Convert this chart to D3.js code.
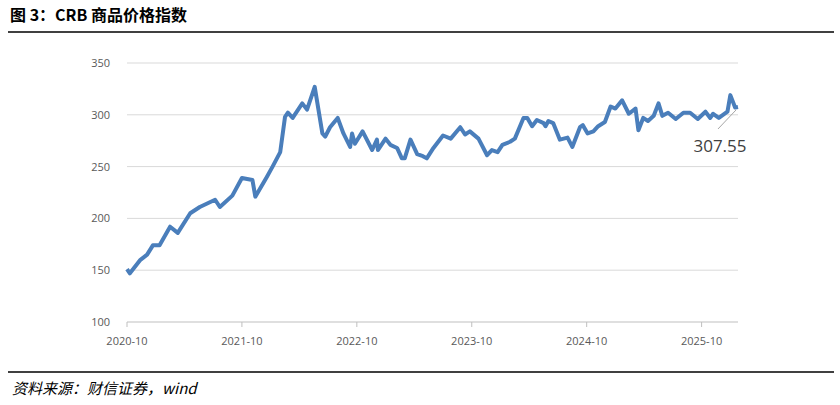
<!DOCTYPE html>
<html><head><meta charset="utf-8">
<script src="https://cdn.jsdelivr.net/npm/d3@7"></script>
<style>body{margin:0;background:#fff}</style>
</head><body><svg width="840" height="405"></svg>
<script>
// months since 2020-10 and CRB index values
let months = [0,.3,1.4,2.1,2.7,3.4,4.5,5.3,6.6,7.6,9.2,9.7,11.0,12.0,13.1,13.4,14.6,15.2,16.0,16.5,16.8,17.3,18.3,18.8,19.6,20.4,20.7,21.2,22.0,22.6,23.3,23.5,23.8,24.6,25.6,26.1,26.2,27.0,27.5,28.2,28.7,29.0,29.6,30.3,30.9,31.3,32.0,33.0,33.8,34.8,35.3,35.8,36.7,37.6,38.1,38.7,39.2,40.0,40.5,41.4,41.8,42.3,42.8,43.5,43.7,44.0,44.5,45.2,46.0,46.5,47.3,47.6,48.1,48.7,49.2,49.9,50.5,51.0,51.7,52.4,53.1,53.4,53.9,54.4,55.0,55.5,55.9,56.5,57.3,58.1,58.8,59.6,60.4,60.9,61.2,61.8,62.7,63.0,63.5,63.8]
let values = [151,147,160,165,174,174,192,186,205,211,218,211,222,239,237,221,240,250,264,298,302,297,311,305,327,282,279,288,297,282,269,282,272,284,266,276,266,277,271,268,258,258,276,262,260,258,268,280,277,288,281,284,277,261,266,264,271,274,277,297,297,289,295,292,289,294,292,276,278,269,288,290,282,284,289,293,308,306,314,301,306,285,297,294,299,311,299,302,296,302,302,296,303,297,301,297,303,319,307,307.55]
let yTicks = [100,150,200,250,300,350]
let xTicks = [0,12,24,36,48,60]
let xTickLabels = ["2020-10","2021-10","2022-10","2023-10","2024-10","2025-10"]
let lastLabel = "307.55"

let svg = d3.select("svg")
let x = d3.scaleLinear().domain([0, 63.8]).range([127, 738])
let y = d3.scaleLinear().domain([100, 350]).range([322, 63])

// title and rules
svg.append("text").attr("x", 10).attr("y", 21).attr("font-family", "Noto Sans CJK SC")
    .attr("font-weight", "bold").attr("font-size", 16).attr("fill", "#000").text("图 3：CRB 商品价格指数")
svg.append("line").attr("x1", 8).attr("x2", 834).attr("y1", 32).attr("y2", 32).attr("stroke", "#000").attr("stroke-width", 1.5)
svg.append("line").attr("x1", 8).attr("x2", 834).attr("y1", 372).attr("y2", 372).attr("stroke", "#000").attr("stroke-width", 1.5)
svg.append("text").attr("x", 12).attr("y", 394).attr("font-family", "Noto Sans CJK SC")
    .attr("font-style", "italic").attr("font-size", 15).attr("fill", "#000").text("资料来源：财信证券，wind")

// grid
svg.selectAll(".grid").data(yTicks).enter().append("line")
    .attr("x1", 127).attr("x2", 738).attr("y1", d => y(d)).attr("y2", d => y(d))
    .attr("stroke", d => d == 100 ? "#bfbfbf" : "#d9d9d9").attr("stroke-width", 1)
svg.selectAll(".yl").data(yTicks).enter().append("text")
    .attr("x", 110).attr("y", d => y(d) + 4).attr("text-anchor", "end")
    .attr("font-family", "Open Sans").attr("font-size", 11).attr("fill", "#595959").text(d => d)
svg.selectAll(".xt").data(xTicks).enter().append("line")
    .attr("x1", d => x(d)).attr("x2", d => x(d)).attr("y1", 322).attr("y2", 327).attr("stroke", "#bfbfbf")
svg.selectAll(".xl").data(xTicks).enter().append("text")
    .attr("x", d => x(d)).attr("y", 345).attr("text-anchor", "middle")
    .attr("font-family", "Open Sans").attr("font-size", 11).attr("fill", "#595959").text((d, i) => xTickLabels[i])

// line
let pts = months.map((m, i) => [m, values[i]])
svg.append("path").datum(pts)
    .attr("d", d3.line().x(d => x(d[0])).y(d => y(d[1])).curve(d3.curveLinear))
    .attr("fill", "none").attr("stroke", "#4a7ebb").attr("stroke-width", 4).attr("stroke-linejoin", "round")

// end label
let lx = x(months[months.length - 1]), ly = y(values[values.length - 1])
svg.append("line").attr("x1", lx - 2).attr("y1", ly + 3).attr("x2", lx - 20).attr("y2", ly + 22)
    .attr("stroke", "#a6a6a6").attr("stroke-width", 1)
svg.append("text").attr("x", lx - 18).attr("y", ly + 45).attr("text-anchor", "middle")
    .attr("font-family", "Open Sans").attr("font-size", 17).attr("fill", "#404040").text(lastLabel)
</script></body></html>
